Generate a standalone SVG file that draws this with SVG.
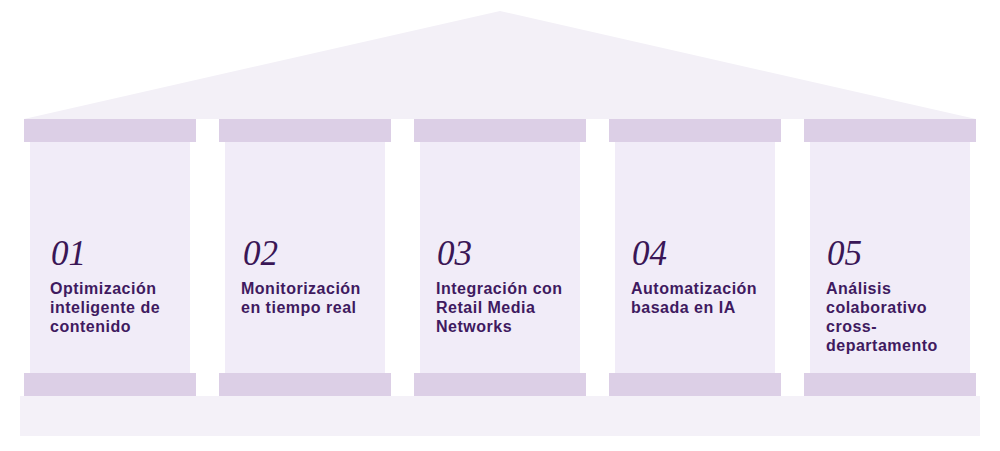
<svg xmlns="http://www.w3.org/2000/svg" width="1000" height="451" viewBox="0 0 1000 451">
<style>
.roof{fill:#f3f0f7}
.cap{fill:#dccfe6}
.shaft{fill:#f1ecf8}
.base{fill:#f4f1f8}
.num{font-family:"Liberation Serif",serif;font-style:italic;font-size:35px;fill:#3a1656}
.ttl{font-family:"Liberation Sans",Arial,sans-serif;font-weight:700;font-size:16px;letter-spacing:0.5px;fill:#3f1a60}
</style>
<rect width="1000" height="451" fill="#ffffff"/>
<g id="roof"><polygon class="roof" points="24,119 500,11 976,119"/></g>
<g id="base"><rect class="base" x="20" y="396" width="960" height="40"/></g>
<g id="col1">
<rect class="cap" x="24" y="119" width="172" height="23"/>
<rect class="shaft" x="30" y="142" width="160" height="231"/>
<rect class="cap" x="24" y="373" width="172" height="23"/>
<text class="num" x="51" y="265">01</text>
<text class="ttl" x="50" y="294">Optimización</text>
<text class="ttl" x="50" y="313">inteligente de</text>
<text class="ttl" x="50" y="332">contenido</text>
</g>
<g id="col2">
<rect class="cap" x="219" y="119" width="172" height="23"/>
<rect class="shaft" x="225" y="142" width="160" height="231"/>
<rect class="cap" x="219" y="373" width="172" height="23"/>
<text class="num" x="243" y="265">02</text>
<text class="ttl" x="241" y="294">Monitorización</text>
<text class="ttl" x="241" y="313">en tiempo real</text>
</g>
<g id="col3">
<rect class="cap" x="414" y="119" width="172" height="23"/>
<rect class="shaft" x="420" y="142" width="160" height="231"/>
<rect class="cap" x="414" y="373" width="172" height="23"/>
<text class="num" x="437" y="265">03</text>
<text class="ttl" x="436" y="294">Integración con</text>
<text class="ttl" x="436" y="313">Retail Media</text>
<text class="ttl" x="436" y="332">Networks</text>
</g>
<g id="col4">
<rect class="cap" x="609" y="119" width="172" height="23"/>
<rect class="shaft" x="615" y="142" width="160" height="231"/>
<rect class="cap" x="609" y="373" width="172" height="23"/>
<text class="num" x="632" y="265">04</text>
<text class="ttl" x="631" y="294">Automatización</text>
<text class="ttl" x="631" y="313">basada en IA</text>
</g>
<g id="col5">
<rect class="cap" x="804" y="119" width="172" height="23"/>
<rect class="shaft" x="810" y="142" width="160" height="231"/>
<rect class="cap" x="804" y="373" width="172" height="23"/>
<text class="num" x="827" y="265">05</text>
<text class="ttl" x="826" y="294">Análisis</text>
<text class="ttl" x="826" y="313">colaborativo</text>
<text class="ttl" x="826" y="332">cross-</text>
<text class="ttl" x="826" y="351">departamento</text>
</g>
<g id="connectors"></g>
</svg>
